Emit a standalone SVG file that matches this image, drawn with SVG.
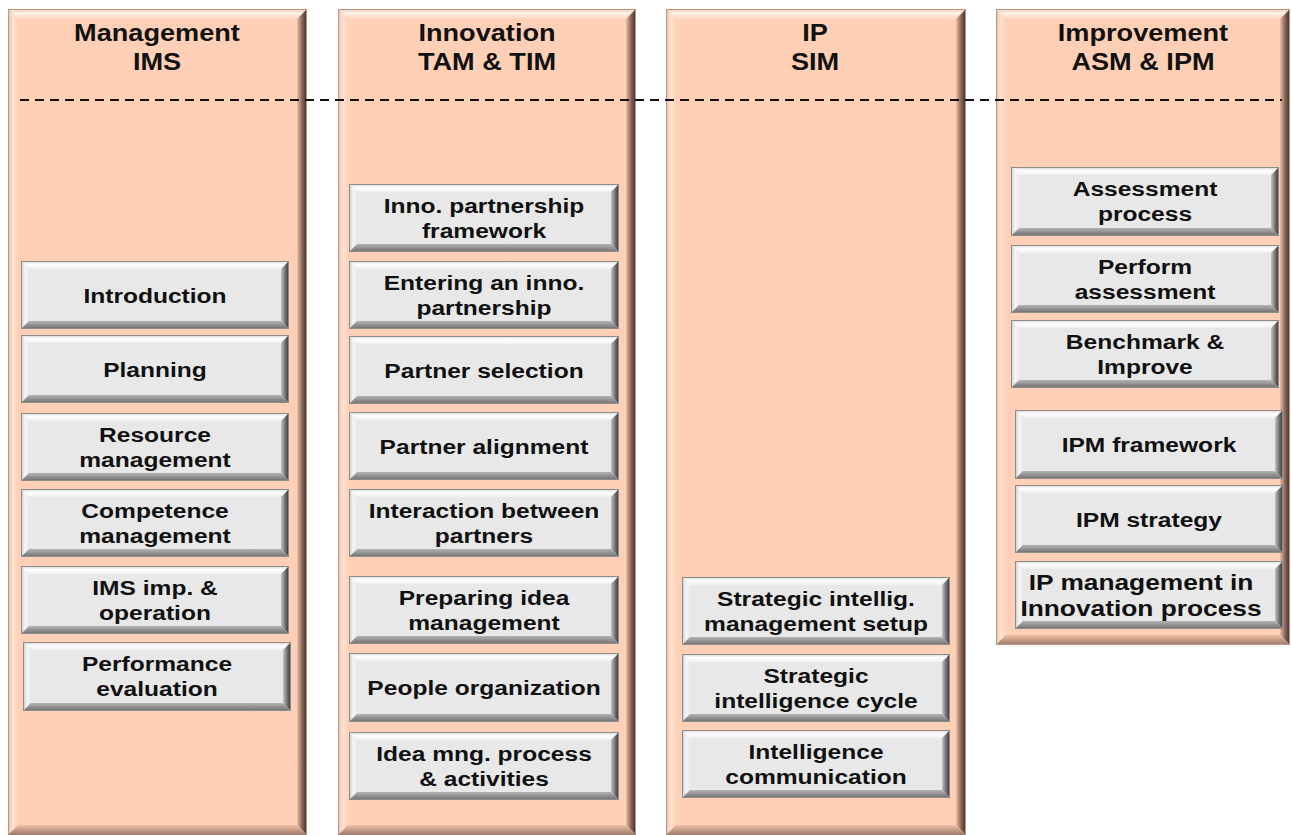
<svg xmlns="http://www.w3.org/2000/svg" xmlns:xlink="http://www.w3.org/1999/xlink" width="1291" height="835" viewBox="0 0 1291 835">
  <style>
    .face { fill: #FFD0B5; }
    .cedge { fill: none; stroke: #B8988A; stroke-width: 1; }
    .ctop { fill: url(#gColTop); }
    .cleft { fill: url(#gColLeft); }
    .cright { fill: url(#gColRight); }
    .cbot { fill: url(#gColBot); }
    .hdr { font-family: "Liberation Sans", Arial, sans-serif; font-weight: bold; font-size: 23px; fill: #111; text-anchor: middle; }
    .lbl { font-family: "Liberation Sans", Arial, sans-serif; font-weight: bold; font-size: 21px; fill: #111; text-anchor: middle; }
    .big { font-size: 22.5px; }
    .sep { fill: none; stroke: #111; stroke-width: 2; stroke-dasharray: 9 6; }
  </style>
  <defs>
    <linearGradient id="gColTop" x1="0" y1="0" x2="0" y2="1">
      <stop offset="0" stop-color="#F2CBB6"/>
      <stop offset="0.45" stop-color="#FFF0E6"/>
      <stop offset="1" stop-color="#FFD5BD"/>
    </linearGradient>
    <linearGradient id="gColLeft" x1="0" y1="0" x2="1" y2="0">
      <stop offset="0" stop-color="#E8C0AA"/>
      <stop offset="0.5" stop-color="#FFE2D2"/>
      <stop offset="1" stop-color="#FFD2B9"/>
    </linearGradient>
    <linearGradient id="gColRight" x1="0" y1="0" x2="1" y2="0">
      <stop offset="0" stop-color="#EDBEA4"/>
      <stop offset="0.5" stop-color="#8A685A"/>
      <stop offset="1" stop-color="#3A2C26"/>
    </linearGradient>
    <linearGradient id="gColBot" x1="0" y1="0" x2="0" y2="1">
      <stop offset="0" stop-color="#F0BFA5"/>
      <stop offset="1" stop-color="#9A7868"/>
    </linearGradient>
    <linearGradient id="gBtnTop" x1="0" y1="0" x2="0" y2="1">
      <stop offset="0" stop-color="#D4D4D4"/>
      <stop offset="0.45" stop-color="#FFFFFF"/>
      <stop offset="1" stop-color="#EFEFEF"/>
    </linearGradient>
    <linearGradient id="gBtnLeft" x1="0" y1="0" x2="1" y2="0">
      <stop offset="0" stop-color="#C8C8C8"/>
      <stop offset="0.5" stop-color="#F6F6F6"/>
      <stop offset="1" stop-color="#E9E9E9"/>
    </linearGradient>
    <linearGradient id="gBtnRight" x1="0" y1="0" x2="1" y2="0">
      <stop offset="0" stop-color="#C4C4C4"/>
      <stop offset="0.55" stop-color="#6E6E6E"/>
      <stop offset="1" stop-color="#333333"/>
    </linearGradient>
    <linearGradient id="gBtnBot" x1="0" y1="0" x2="0" y2="1">
      <stop offset="0" stop-color="#B4B4B4"/>
      <stop offset="1" stop-color="#6E6E6E"/>
    </linearGradient>
    <symbol id="btn" viewBox="0 0 268 68" preserveAspectRatio="none">
      <rect x="0" y="0" width="268" height="68" fill="#E8E8E8"/>
      <polygon points="0,0 268,0 260,8 8,8" fill="url(#gBtnTop)"/>
      <polygon points="0,0 8,8 8,60 0,68" fill="url(#gBtnLeft)"/>
      <polygon points="268,0 268,68 260,60 260,8" fill="url(#gBtnRight)"/>
      <polygon points="0,68 8,60 260,60 268,68" fill="url(#gBtnBot)"/>
      <rect x="0.5" y="0.5" width="267" height="67" fill="none" stroke="#8C8C8C" stroke-width="1"/>
    </symbol>
  </defs>

  <rect width="1291" height="835" fill="#FFFFFF"/>

  <!-- Column 1 -->
  <g id="col-management">
    <rect class="face" x="8" y="9" width="299" height="826"/>
    <polygon class="ctop" points="8,9 307,9 297,19 18,19"/>
    <polygon class="cleft" points="8,9 18,19 18,825 8,835"/>
    <polygon class="cright" points="307,9 307,835 297,825 297,19"/>
    <polygon class="cbot" points="8,835 18,825 297,825 307,835"/>
    <rect class="cedge" x="8.5" y="9.5" width="298" height="826"/>
    <text class="hdr" transform="translate(157 0) scale(1.18 1)"><tspan x="0" y="41">Management</tspan><tspan x="0" y="70">IMS</tspan></text>
  </g>

  <!-- Column 2 -->
  <g id="col-innovation">
    <rect class="face" x="338" y="9" width="298" height="826"/>
    <polygon class="ctop" points="338,9 636,9 626,19 348,19"/>
    <polygon class="cleft" points="338,9 348,19 348,825 338,835"/>
    <polygon class="cright" points="636,9 636,835 626,825 626,19"/>
    <polygon class="cbot" points="338,835 348,825 626,825 636,835"/>
    <rect class="cedge" x="338.5" y="9.5" width="297" height="826"/>
    <text class="hdr" transform="translate(487 0) scale(1.18 1)"><tspan x="0" y="41">Innovation</tspan><tspan x="0" y="70">TAM &amp; TIM</tspan></text>
  </g>

  <!-- Column 3 -->
  <g id="col-ip">
    <rect class="face" x="666" y="9" width="300" height="826"/>
    <polygon class="ctop" points="666,9 966,9 956,19 676,19"/>
    <polygon class="cleft" points="666,9 676,19 676,825 666,835"/>
    <polygon class="cright" points="966,9 966,835 956,825 956,19"/>
    <polygon class="cbot" points="666,835 676,825 956,825 966,835"/>
    <rect class="cedge" x="666.5" y="9.5" width="299" height="826"/>
    <text class="hdr" transform="translate(815 0) scale(1.18 1)"><tspan x="0" y="41">IP</tspan><tspan x="0" y="70">SIM</tspan></text>
  </g>

  <!-- Column 4 -->
  <g id="col-improvement">
    <rect class="face" x="996" y="9" width="294" height="636"/>
    <polygon class="ctop" points="996,9 1290,9 1280,19 1006,19"/>
    <polygon class="cleft" points="996,9 1006,19 1006,635 996,645"/>
    <polygon class="cright" points="1290,9 1290,645 1280,635 1280,19"/>
    <polygon class="cbot" points="996,645 1006,635 1280,635 1290,645"/>
    <rect class="cedge" x="996.5" y="9.5" width="293" height="635"/>
    <text class="hdr" transform="translate(1143 0) scale(1.18 1)"><tspan x="0" y="41">Improvement</tspan><tspan x="0" y="70">ASM &amp; IPM</tspan></text>
  </g>

  <!-- Separator line -->
  <g id="connectors">
    <line class="sep" x1="20" y1="100" x2="1282" y2="100"/>
  </g>

  <!-- Column 1 buttons -->
  <g id="n-introduction">
    <use xlink:href="#btn" href="#btn" x="21" y="261" width="268" height="68"/>
    <text class="lbl" transform="translate(155 0) scale(1.17 1)" x="0" y="303">Introduction</text>
  </g>
  <g id="n-planning">
    <use xlink:href="#btn" href="#btn" x="21" y="335" width="268" height="68"/>
    <text class="lbl" transform="translate(155 0) scale(1.17 1)" x="0" y="377">Planning</text>
  </g>
  <g id="n-resource">
    <use xlink:href="#btn" href="#btn" x="21" y="413" width="268" height="68"/>
    <text class="lbl" transform="translate(155 0) scale(1.17 1)"><tspan x="0" y="442">Resource</tspan><tspan x="0" y="467">management</tspan></text>
  </g>
  <g id="n-competence">
    <use xlink:href="#btn" href="#btn" x="21" y="489" width="268" height="68"/>
    <text class="lbl" transform="translate(155 0) scale(1.17 1)"><tspan x="0" y="518">Competence</tspan><tspan x="0" y="543">management</tspan></text>
  </g>
  <g id="n-ims-imp">
    <use xlink:href="#btn" href="#btn" x="21" y="566" width="268" height="68"/>
    <text class="lbl" transform="translate(155 0) scale(1.17 1)"><tspan x="0" y="595">IMS imp. &amp;</tspan><tspan x="0" y="620">operation</tspan></text>
  </g>
  <g id="n-performance">
    <use xlink:href="#btn" href="#btn" x="23" y="642" width="268" height="69"/>
    <text class="lbl" transform="translate(157 0) scale(1.17 1)"><tspan x="0" y="671">Performance</tspan><tspan x="0" y="696">evaluation</tspan></text>
  </g>

  <!-- Column 2 buttons -->
  <g id="n-inno-framework">
    <use xlink:href="#btn" href="#btn" x="349" y="184" width="270" height="68"/>
    <text class="lbl" transform="translate(484 0) scale(1.17 1)"><tspan x="0" y="213">Inno. partnership</tspan><tspan x="0" y="238">framework</tspan></text>
  </g>
  <g id="n-entering">
    <use xlink:href="#btn" href="#btn" x="349" y="261" width="270" height="68"/>
    <text class="lbl" transform="translate(484 0) scale(1.17 1)"><tspan x="0" y="290">Entering an inno.</tspan><tspan x="0" y="315">partnership</tspan></text>
  </g>
  <g id="n-partner-selection">
    <use xlink:href="#btn" href="#btn" x="349" y="336" width="270" height="68"/>
    <text class="lbl" transform="translate(484 0) scale(1.17 1)" x="0" y="378">Partner selection</text>
  </g>
  <g id="n-partner-alignment">
    <use xlink:href="#btn" href="#btn" x="349" y="412" width="270" height="68"/>
    <text class="lbl" transform="translate(484 0) scale(1.17 1)" x="0" y="454">Partner alignment</text>
  </g>
  <g id="n-interaction">
    <use xlink:href="#btn" href="#btn" x="349" y="489" width="270" height="68"/>
    <text class="lbl" transform="translate(484 0) scale(1.17 1)"><tspan x="0" y="518">Interaction between</tspan><tspan x="0" y="543">partners</tspan></text>
  </g>
  <g id="n-preparing">
    <use xlink:href="#btn" href="#btn" x="349" y="576" width="270" height="68"/>
    <text class="lbl" transform="translate(484 0) scale(1.17 1)"><tspan x="0" y="605">Preparing idea</tspan><tspan x="0" y="630">management</tspan></text>
  </g>
  <g id="n-people">
    <use xlink:href="#btn" href="#btn" x="349" y="653" width="270" height="69"/>
    <text class="lbl" transform="translate(484 0) scale(1.17 1)" x="0" y="695">People organization</text>
  </g>
  <g id="n-idea-process">
    <use xlink:href="#btn" href="#btn" x="349" y="732" width="270" height="68"/>
    <text class="lbl" transform="translate(484 0) scale(1.17 1)"><tspan x="0" y="761">Idea mng. process</tspan><tspan x="0" y="786">&amp; activities</tspan></text>
  </g>

  <!-- Column 3 buttons -->
  <g id="n-si-setup">
    <use xlink:href="#btn" href="#btn" x="682" y="577" width="268" height="68"/>
    <text class="lbl" transform="translate(816 0) scale(1.17 1)"><tspan x="0" y="606">Strategic intellig.</tspan><tspan x="0" y="631">management setup</tspan></text>
  </g>
  <g id="n-si-cycle">
    <use xlink:href="#btn" href="#btn" x="682" y="654" width="268" height="68"/>
    <text class="lbl" transform="translate(816 0) scale(1.17 1)"><tspan x="0" y="683">Strategic</tspan><tspan x="0" y="708">intelligence cycle</tspan></text>
  </g>
  <g id="n-si-communication">
    <use xlink:href="#btn" href="#btn" x="682" y="730" width="268" height="68"/>
    <text class="lbl" transform="translate(816 0) scale(1.17 1)"><tspan x="0" y="759">Intelligence</tspan><tspan x="0" y="784">communication</tspan></text>
  </g>

  <!-- Column 4 buttons -->
  <g id="n-assessment-process">
    <use xlink:href="#btn" href="#btn" x="1011" y="167" width="268" height="69"/>
    <text class="lbl" transform="translate(1145 0) scale(1.17 1)"><tspan x="0" y="196">Assessment</tspan><tspan x="0" y="221">process</tspan></text>
  </g>
  <g id="n-perform-assessment">
    <use xlink:href="#btn" href="#btn" x="1011" y="245" width="268" height="68"/>
    <text class="lbl" transform="translate(1145 0) scale(1.17 1)"><tspan x="0" y="274">Perform</tspan><tspan x="0" y="299">assessment</tspan></text>
  </g>
  <g id="n-benchmark">
    <use xlink:href="#btn" href="#btn" x="1011" y="320" width="268" height="68"/>
    <text class="lbl" transform="translate(1145 0) scale(1.17 1)"><tspan x="0" y="349">Benchmark &amp;</tspan><tspan x="0" y="374">Improve</tspan></text>
  </g>
  <g id="n-ipm-framework">
    <use xlink:href="#btn" href="#btn" x="1015" y="410" width="268" height="69"/>
    <text class="lbl" transform="translate(1149 0) scale(1.17 1)" x="0" y="452">IPM framework</text>
  </g>
  <g id="n-ipm-strategy">
    <use xlink:href="#btn" href="#btn" x="1015" y="485" width="268" height="68"/>
    <text class="lbl" transform="translate(1149 0) scale(1.17 1)" x="0" y="527">IPM strategy</text>
  </g>
  <g id="n-ip-innovation">
    <use xlink:href="#btn" href="#btn" x="1015" y="561" width="268" height="68"/>
    <text class="lbl big" transform="translate(1141 0) scale(1.17 1)"><tspan x="0" y="590">IP management in</tspan><tspan x="0" y="616">Innovation process</tspan></text>
  </g>
</svg>
